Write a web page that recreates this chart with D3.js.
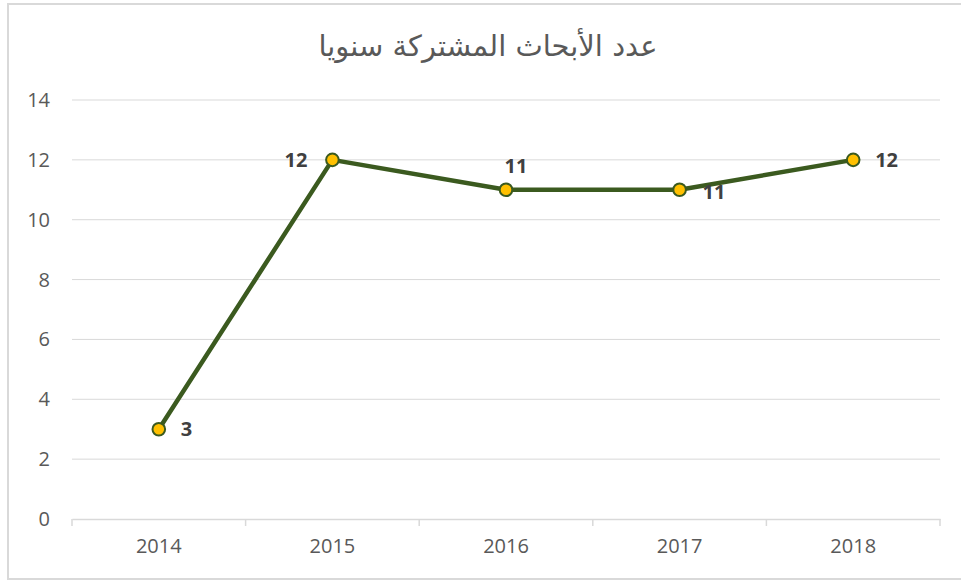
<!DOCTYPE html>
<html>
<head>
<meta charset="utf-8">
<script src="https://cdn.jsdelivr.net/npm/d3@7"></script>
<style>
  body { margin: 0; background: #fff; }
  svg { display: block; }
</style>
</head>
<body>
<svg id="chart" width="961" height="582"></svg>
<script>
const title = "عدد الأبحاث المشتركة سنويا";
const years = ["2014", "2015", "2016", "2017", "2018"];
const papers = [3, 12, 11, 11, 12];
const yTicks = [0, 2, 4, 6, 8, 10, 12, 14];
// where each data label sits relative to its point
const labelPlacement = ["right", "left", "above", "belowRight", "right"];

const svg = d3.select("#chart");
const width = 961, height = 582;
const margin = { top: 100, right: 21, bottom: 63, left: 72 };

svg.append("rect")
  .attr("x", 8).attr("y", 4)
  .attr("width", 962).attr("height", 575)
  .attr("fill", "#fff")
  .attr("stroke", "#d9d9d9")
  .attr("stroke-width", 2);

const x = d3.scaleBand()
  .domain(years)
  .range([margin.left, width - margin.right]);

const y = d3.scaleLinear()
  .domain([0, 14])
  .range([height - margin.bottom, margin.top]);

// gridlines
svg.append("g")
  .selectAll("line")
  .data(yTicks.filter(d => d > 0))
  .join("line")
  .attr("x1", margin.left).attr("x2", width - margin.right)
  .attr("y1", d => y(d)).attr("y2", d => y(d))
  .attr("stroke", "#d9d9d9")
  .attr("stroke-width", 1);

// y labels
svg.append("g")
  .selectAll("text")
  .data(yTicks)
  .join("text")
  .attr("x", 50)
  .attr("y", d => y(d))
  .attr("dy", "0.35em")
  .attr("text-anchor", "end")
  .attr("font-family", "Open Sans, sans-serif")
  .attr("font-size", 20)
  .attr("fill", "#595959")
  .text(d => d);

// x axis
const xAxis = svg.append("g")
  .attr("transform", `translate(0,${y(0)})`)
  .call(d3.axisBottom(x).tickSize(0).tickPadding(20));
xAxis.select(".domain").attr("stroke", "#d9d9d9").attr("stroke-width", 1.5);
xAxis.selectAll("text")
  .attr("font-family", "Open Sans, sans-serif")
  .attr("font-size", 20)
  .attr("fill", "#595959");

const boundaries = years.map(d => x(d)).concat([x(years[years.length - 1]) + x.bandwidth()]);
svg.append("g")
  .selectAll("line")
  .data(boundaries)
  .join("line")
  .attr("x1", d => d).attr("x2", d => d)
  .attr("y1", y(0)).attr("y2", y(0) + 7)
  .attr("stroke", "#d9d9d9")
  .attr("stroke-width", 1.5);

// title
svg.append("text")
  .attr("x", 488)
  .attr("y", 56)
  .attr("text-anchor", "middle")
  .attr("font-family", "DejaVu Sans, sans-serif")
  .attr("font-size", 29)
  .attr("fill", "#595959")
  .text(title);

const points = years.map((yr, i) => ({ year: yr, value: papers[i], place: labelPlacement[i] }));
const cx = d => x(d.year) + x.bandwidth() / 2;

svg.append("path")
  .datum(points)
  .attr("fill", "none")
  .attr("stroke", "#3b5a1f")
  .attr("stroke-width", 4.5)
  .attr("stroke-linejoin", "round")
  .attr("d", d3.line().x(cx).y(d => y(d.value)));

svg.append("g")
  .selectAll("circle")
  .data(points)
  .join("circle")
  .attr("cx", cx)
  .attr("cy", d => y(d.value))
  .attr("r", 6.3)
  .attr("fill", "#ffc000")
  .attr("stroke", "#3b5a1f")
  .attr("stroke-width", 2);

const offsets = {
  right: { dx: 22, dy: 0, anchor: "start" },
  left: { dx: -25, dy: 0, anchor: "end" },
  above: { dx: 10, dy: -24, anchor: "middle" },
  belowRight: { dx: 23, dy: 2, anchor: "start" }
};

svg.append("g")
  .selectAll("text")
  .data(points)
  .join("text")
  .attr("x", d => cx(d) + offsets[d.place].dx)
  .attr("y", d => y(d.value) + offsets[d.place].dy)
  .attr("dy", "0.35em")
  .attr("text-anchor", d => offsets[d.place].anchor)
  .attr("font-family", "Open Sans, sans-serif")
  .attr("font-weight", "bold")
  .attr("font-size", 20)
  .attr("fill", "#404040")
  .text(d => d.value);
</script>
</body>
</html>
